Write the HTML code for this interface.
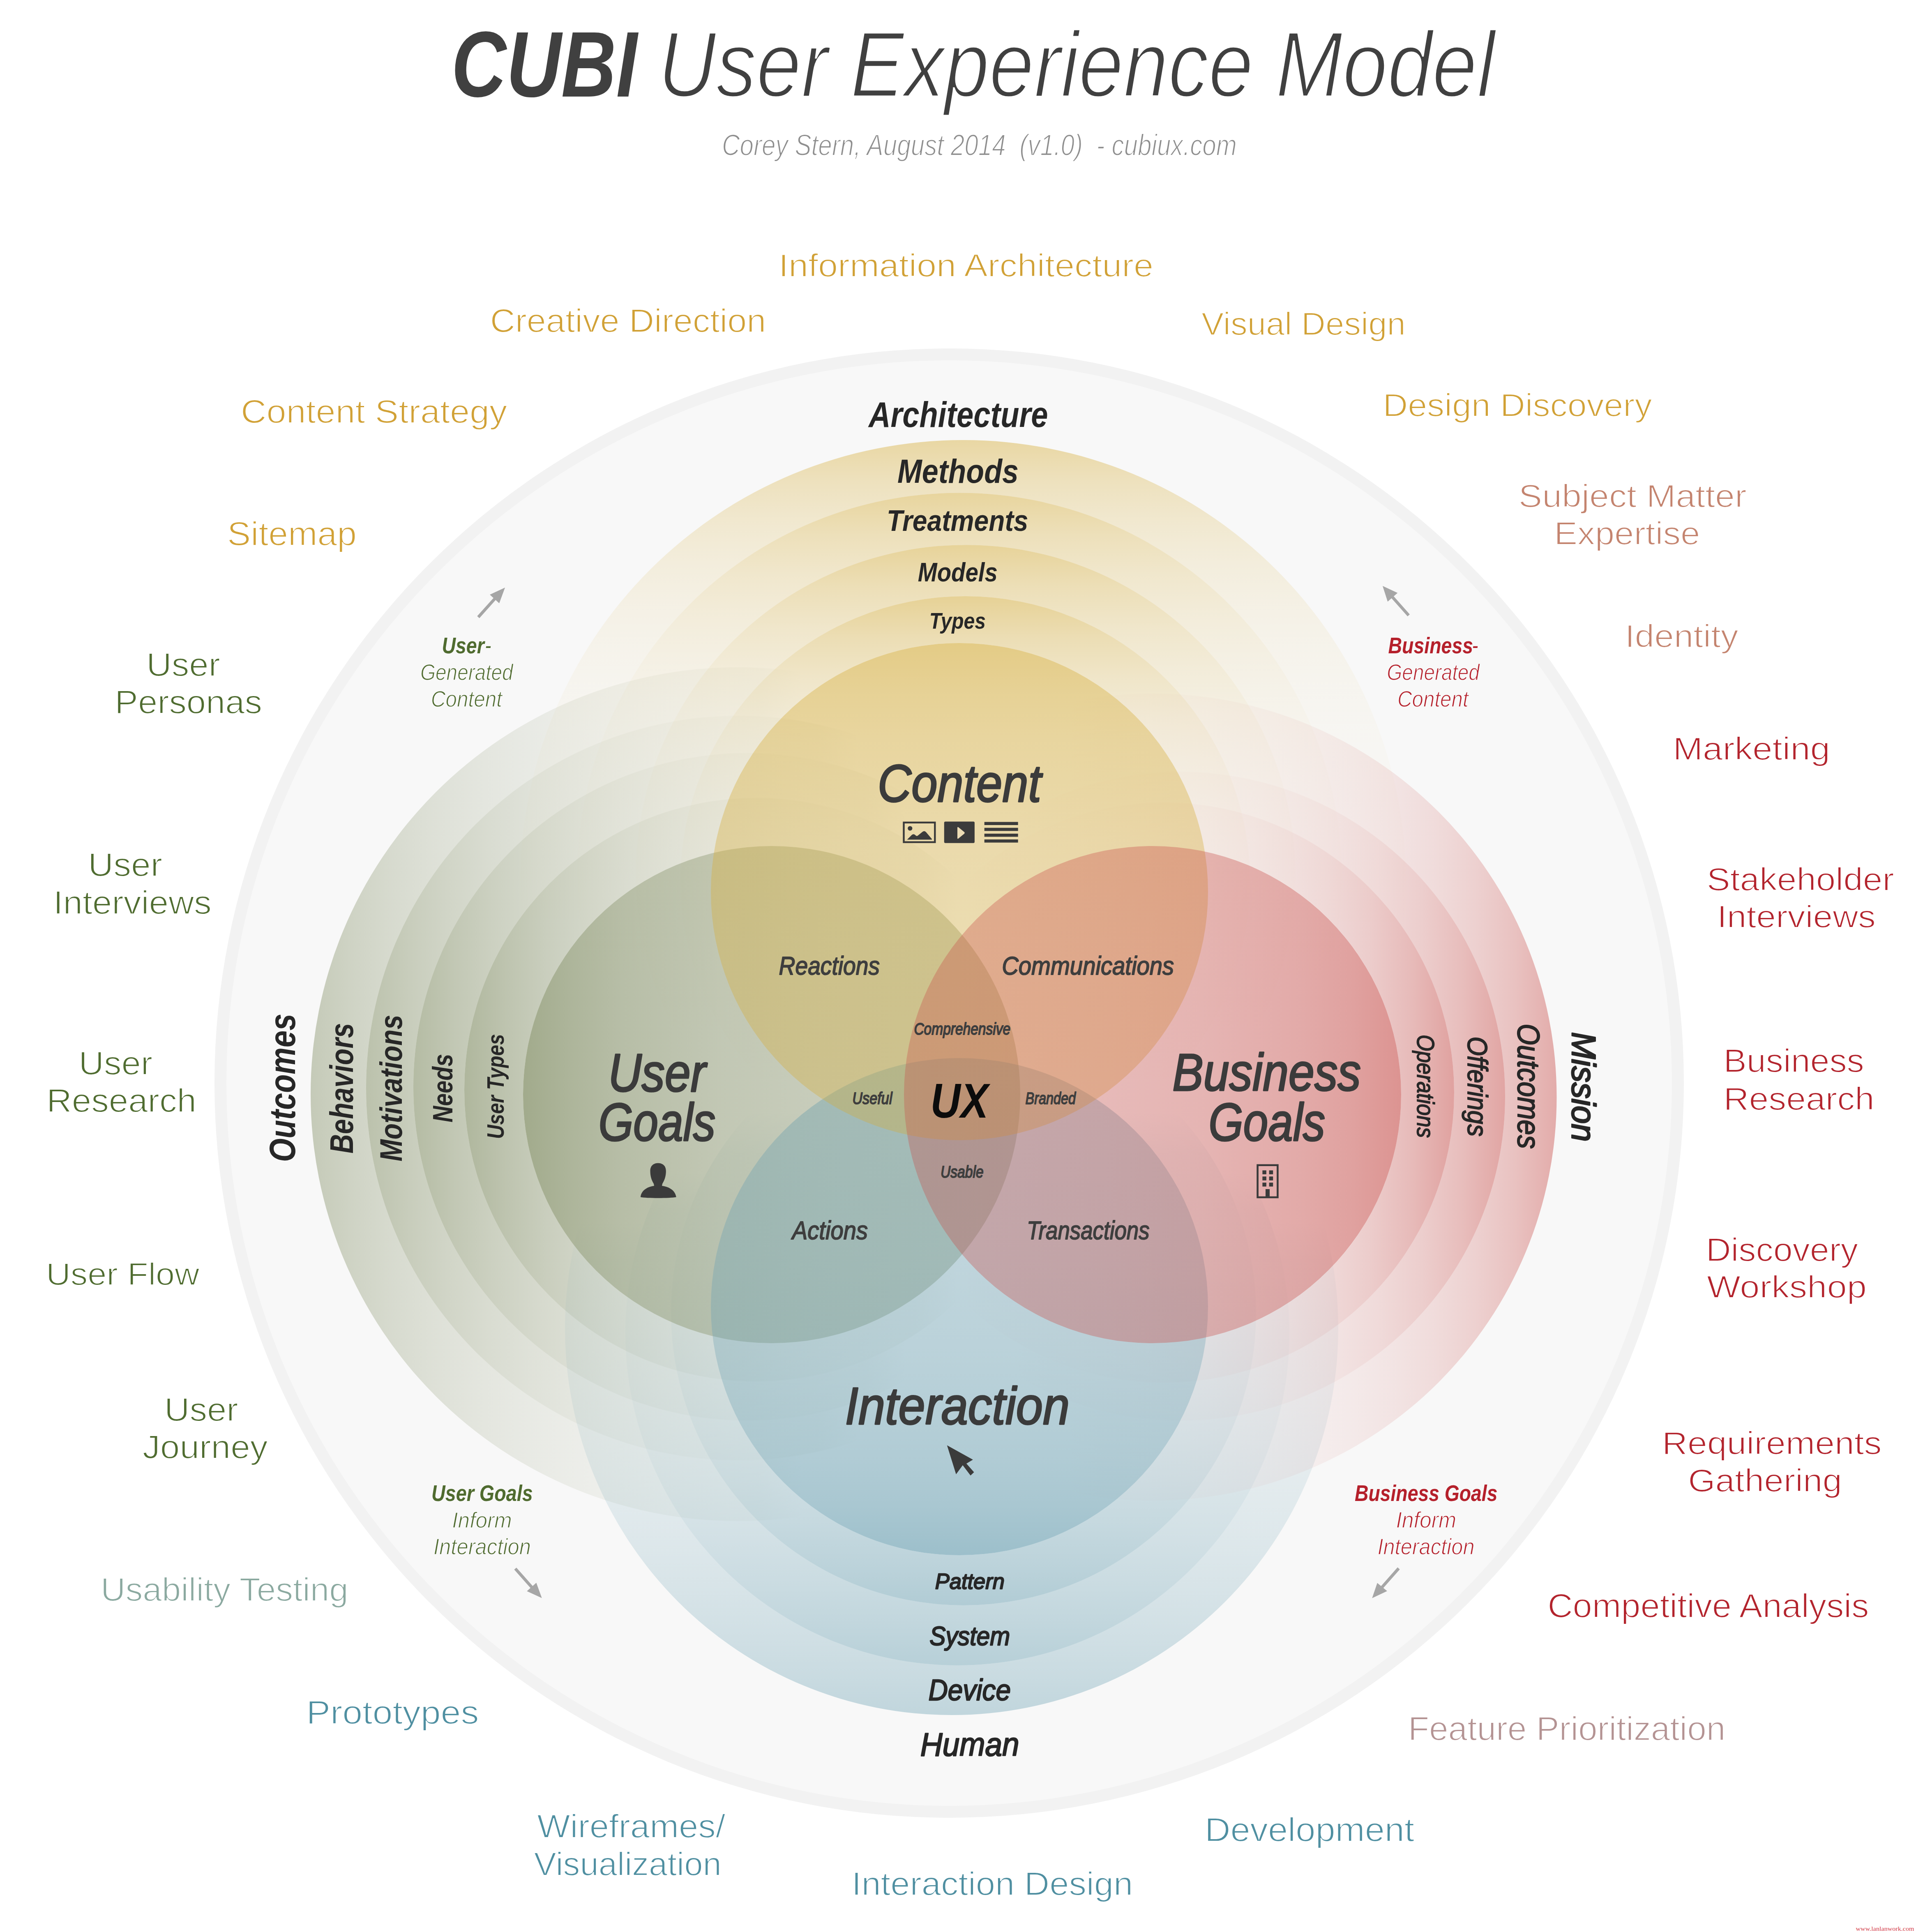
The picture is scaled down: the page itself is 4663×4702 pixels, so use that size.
<!DOCTYPE html><html><head><meta charset="utf-8"><title>CUBI User Experience Model</title><style>html,body{margin:0;padding:0;background:#fff;overflow:hidden}svg{display:block}</style></head><body><svg xmlns="http://www.w3.org/2000/svg" width="4663" height="4702" viewBox="0 0 4663 4702"><defs><linearGradient id="green_r0" gradientUnits="userSpaceOnUse" x1="1130.0" y1="2652.0" x2="2330.0" y2="2652.0"><stop offset="0.0000" stop-color="#717f4f" stop-opacity="0.5400"/><stop offset="0.0833" stop-color="#717f4f" stop-opacity="0.4324"/><stop offset="0.1667" stop-color="#717f4f" stop-opacity="0.3462"/><stop offset="0.2500" stop-color="#717f4f" stop-opacity="0.2772"/><stop offset="0.3333" stop-color="#717f4f" stop-opacity="0.2220"/><stop offset="0.4167" stop-color="#717f4f" stop-opacity="0.1778"/><stop offset="0.5000" stop-color="#717f4f" stop-opacity="0.1423"/><stop offset="0.5833" stop-color="#717f4f" stop-opacity="0.1140"/><stop offset="0.6667" stop-color="#717f4f" stop-opacity="0.0913"/><stop offset="0.7500" stop-color="#717f4f" stop-opacity="0.0731"/><stop offset="0.8333" stop-color="#717f4f" stop-opacity="0.0585"/><stop offset="0.9167" stop-color="#717f4f" stop-opacity="0.0469"/><stop offset="1.0000" stop-color="#717f4f" stop-opacity="0.0000"/></linearGradient><linearGradient id="green_r1" gradientUnits="userSpaceOnUse" x1="1006.0" y1="2645.0" x2="2206.0" y2="2645.0"><stop offset="0.0000" stop-color="#717f4f" stop-opacity="0.5000"/><stop offset="0.0833" stop-color="#717f4f" stop-opacity="0.4004"/><stop offset="0.1667" stop-color="#717f4f" stop-opacity="0.3206"/><stop offset="0.2500" stop-color="#717f4f" stop-opacity="0.2567"/><stop offset="0.3333" stop-color="#717f4f" stop-opacity="0.2056"/><stop offset="0.4167" stop-color="#717f4f" stop-opacity="0.1646"/><stop offset="0.5000" stop-color="#717f4f" stop-opacity="0.1318"/><stop offset="0.5833" stop-color="#717f4f" stop-opacity="0.1055"/><stop offset="0.6667" stop-color="#717f4f" stop-opacity="0.0845"/><stop offset="0.7500" stop-color="#717f4f" stop-opacity="0.0677"/><stop offset="0.8333" stop-color="#717f4f" stop-opacity="0.0542"/><stop offset="0.9167" stop-color="#717f4f" stop-opacity="0.0434"/><stop offset="1.0000" stop-color="#717f4f" stop-opacity="0.0000"/></linearGradient><linearGradient id="green_r2" gradientUnits="userSpaceOnUse" x1="891.0" y1="2648.0" x2="2091.0" y2="2648.0"><stop offset="0.0000" stop-color="#717f4f" stop-opacity="0.4500"/><stop offset="0.0833" stop-color="#717f4f" stop-opacity="0.3603"/><stop offset="0.1667" stop-color="#717f4f" stop-opacity="0.2885"/><stop offset="0.2500" stop-color="#717f4f" stop-opacity="0.2310"/><stop offset="0.3333" stop-color="#717f4f" stop-opacity="0.1850"/><stop offset="0.4167" stop-color="#717f4f" stop-opacity="0.1481"/><stop offset="0.5000" stop-color="#717f4f" stop-opacity="0.1186"/><stop offset="0.5833" stop-color="#717f4f" stop-opacity="0.0950"/><stop offset="0.6667" stop-color="#717f4f" stop-opacity="0.0761"/><stop offset="0.7500" stop-color="#717f4f" stop-opacity="0.0609"/><stop offset="0.8333" stop-color="#717f4f" stop-opacity="0.0488"/><stop offset="0.9167" stop-color="#717f4f" stop-opacity="0.0390"/><stop offset="1.0000" stop-color="#717f4f" stop-opacity="0.0000"/></linearGradient><linearGradient id="green_r3" gradientUnits="userSpaceOnUse" x1="756.0" y1="2663.0" x2="1956.0" y2="2663.0"><stop offset="0.0000" stop-color="#717f4f" stop-opacity="0.3800"/><stop offset="0.0833" stop-color="#717f4f" stop-opacity="0.3043"/><stop offset="0.1667" stop-color="#717f4f" stop-opacity="0.2436"/><stop offset="0.2500" stop-color="#717f4f" stop-opacity="0.1951"/><stop offset="0.3333" stop-color="#717f4f" stop-opacity="0.1562"/><stop offset="0.4167" stop-color="#717f4f" stop-opacity="0.1251"/><stop offset="0.5000" stop-color="#717f4f" stop-opacity="0.1002"/><stop offset="0.5833" stop-color="#717f4f" stop-opacity="0.0802"/><stop offset="0.6667" stop-color="#717f4f" stop-opacity="0.0642"/><stop offset="0.7500" stop-color="#717f4f" stop-opacity="0.0514"/><stop offset="0.8333" stop-color="#717f4f" stop-opacity="0.0412"/><stop offset="0.9167" stop-color="#717f4f" stop-opacity="0.0330"/><stop offset="1.0000" stop-color="#717f4f" stop-opacity="0.0000"/></linearGradient><linearGradient id="blue_r0" gradientUnits="userSpaceOnUse" x1="2345.0" y1="3907.0" x2="2345.0" y2="2707.0"><stop offset="0.0000" stop-color="#5a96aa" stop-opacity="0.4500"/><stop offset="0.0833" stop-color="#5a96aa" stop-opacity="0.3787"/><stop offset="0.1667" stop-color="#5a96aa" stop-opacity="0.3188"/><stop offset="0.2500" stop-color="#5a96aa" stop-opacity="0.2683"/><stop offset="0.3333" stop-color="#5a96aa" stop-opacity="0.2258"/><stop offset="0.4167" stop-color="#5a96aa" stop-opacity="0.1900"/><stop offset="0.5000" stop-color="#5a96aa" stop-opacity="0.1599"/><stop offset="0.5833" stop-color="#5a96aa" stop-opacity="0.1346"/><stop offset="0.6667" stop-color="#5a96aa" stop-opacity="0.1133"/><stop offset="0.7500" stop-color="#5a96aa" stop-opacity="0.0953"/><stop offset="0.8333" stop-color="#5a96aa" stop-opacity="0.0802"/><stop offset="0.9167" stop-color="#5a96aa" stop-opacity="0.0675"/><stop offset="1.0000" stop-color="#5a96aa" stop-opacity="0.0000"/></linearGradient><linearGradient id="blue_r1" gradientUnits="userSpaceOnUse" x1="2330.0" y1="4053.0" x2="2330.0" y2="2853.0"><stop offset="0.0000" stop-color="#5a96aa" stop-opacity="0.4100"/><stop offset="0.0833" stop-color="#5a96aa" stop-opacity="0.3451"/><stop offset="0.1667" stop-color="#5a96aa" stop-opacity="0.2904"/><stop offset="0.2500" stop-color="#5a96aa" stop-opacity="0.2444"/><stop offset="0.3333" stop-color="#5a96aa" stop-opacity="0.2057"/><stop offset="0.4167" stop-color="#5a96aa" stop-opacity="0.1731"/><stop offset="0.5000" stop-color="#5a96aa" stop-opacity="0.1457"/><stop offset="0.5833" stop-color="#5a96aa" stop-opacity="0.1226"/><stop offset="0.6667" stop-color="#5a96aa" stop-opacity="0.1032"/><stop offset="0.7500" stop-color="#5a96aa" stop-opacity="0.0869"/><stop offset="0.8333" stop-color="#5a96aa" stop-opacity="0.0731"/><stop offset="0.9167" stop-color="#5a96aa" stop-opacity="0.0615"/><stop offset="1.0000" stop-color="#5a96aa" stop-opacity="0.0000"/></linearGradient><linearGradient id="blue_r2" gradientUnits="userSpaceOnUse" x1="2316.0" y1="4174.0" x2="2316.0" y2="2974.0"><stop offset="0.0000" stop-color="#5a96aa" stop-opacity="0.3500"/><stop offset="0.0833" stop-color="#5a96aa" stop-opacity="0.2946"/><stop offset="0.1667" stop-color="#5a96aa" stop-opacity="0.2479"/><stop offset="0.2500" stop-color="#5a96aa" stop-opacity="0.2087"/><stop offset="0.3333" stop-color="#5a96aa" stop-opacity="0.1756"/><stop offset="0.4167" stop-color="#5a96aa" stop-opacity="0.1478"/><stop offset="0.5000" stop-color="#5a96aa" stop-opacity="0.1244"/><stop offset="0.5833" stop-color="#5a96aa" stop-opacity="0.1047"/><stop offset="0.6667" stop-color="#5a96aa" stop-opacity="0.0881"/><stop offset="0.7500" stop-color="#5a96aa" stop-opacity="0.0742"/><stop offset="0.8333" stop-color="#5a96aa" stop-opacity="0.0624"/><stop offset="0.9167" stop-color="#5a96aa" stop-opacity="0.0525"/><stop offset="1.0000" stop-color="#5a96aa" stop-opacity="0.0000"/></linearGradient><linearGradient id="content_r0" gradientUnits="userSpaceOnUse" x1="2349.0" y1="1451.0" x2="2349.0" y2="2651.0"><stop offset="0.0000" stop-color="#d5ab33" stop-opacity="0.5000"/><stop offset="0.0833" stop-color="#d5ab33" stop-opacity="0.3452"/><stop offset="0.1667" stop-color="#d5ab33" stop-opacity="0.2384"/><stop offset="0.2500" stop-color="#d5ab33" stop-opacity="0.1646"/><stop offset="0.3333" stop-color="#d5ab33" stop-opacity="0.1137"/><stop offset="0.4167" stop-color="#d5ab33" stop-opacity="0.0785"/><stop offset="0.5000" stop-color="#d5ab33" stop-opacity="0.0542"/><stop offset="0.5833" stop-color="#d5ab33" stop-opacity="0.0374"/><stop offset="0.6667" stop-color="#d5ab33" stop-opacity="0.0258"/><stop offset="0.7500" stop-color="#d5ab33" stop-opacity="0.0178"/><stop offset="0.8333" stop-color="#d5ab33" stop-opacity="0.0123"/><stop offset="0.9167" stop-color="#d5ab33" stop-opacity="0.0085"/><stop offset="1.0000" stop-color="#d5ab33" stop-opacity="0.0000"/></linearGradient><linearGradient id="content_r1" gradientUnits="userSpaceOnUse" x1="2350.0" y1="1326.5" x2="2350.0" y2="2526.5"><stop offset="0.0000" stop-color="#d5ab33" stop-opacity="0.4800"/><stop offset="0.0833" stop-color="#d5ab33" stop-opacity="0.3314"/><stop offset="0.1667" stop-color="#d5ab33" stop-opacity="0.2288"/><stop offset="0.2500" stop-color="#d5ab33" stop-opacity="0.1580"/><stop offset="0.3333" stop-color="#d5ab33" stop-opacity="0.1091"/><stop offset="0.4167" stop-color="#d5ab33" stop-opacity="0.0753"/><stop offset="0.5000" stop-color="#d5ab33" stop-opacity="0.0520"/><stop offset="0.5833" stop-color="#d5ab33" stop-opacity="0.0359"/><stop offset="0.6667" stop-color="#d5ab33" stop-opacity="0.0248"/><stop offset="0.7500" stop-color="#d5ab33" stop-opacity="0.0171"/><stop offset="0.8333" stop-color="#d5ab33" stop-opacity="0.0118"/><stop offset="0.9167" stop-color="#d5ab33" stop-opacity="0.0082"/><stop offset="1.0000" stop-color="#d5ab33" stop-opacity="0.0000"/></linearGradient><linearGradient id="content_r2" gradientUnits="userSpaceOnUse" x1="2335.0" y1="1199.5" x2="2335.0" y2="2399.5"><stop offset="0.0000" stop-color="#d5ab33" stop-opacity="0.4600"/><stop offset="0.0833" stop-color="#d5ab33" stop-opacity="0.3176"/><stop offset="0.1667" stop-color="#d5ab33" stop-opacity="0.2193"/><stop offset="0.2500" stop-color="#d5ab33" stop-opacity="0.1514"/><stop offset="0.3333" stop-color="#d5ab33" stop-opacity="0.1046"/><stop offset="0.4167" stop-color="#d5ab33" stop-opacity="0.0722"/><stop offset="0.5000" stop-color="#d5ab33" stop-opacity="0.0498"/><stop offset="0.5833" stop-color="#d5ab33" stop-opacity="0.0344"/><stop offset="0.6667" stop-color="#d5ab33" stop-opacity="0.0238"/><stop offset="0.7500" stop-color="#d5ab33" stop-opacity="0.0164"/><stop offset="0.8333" stop-color="#d5ab33" stop-opacity="0.0113"/><stop offset="0.9167" stop-color="#d5ab33" stop-opacity="0.0078"/><stop offset="1.0000" stop-color="#d5ab33" stop-opacity="0.0000"/></linearGradient><linearGradient id="content_r3" gradientUnits="userSpaceOnUse" x1="2344.0" y1="1071.0" x2="2344.0" y2="2271.0"><stop offset="0.0000" stop-color="#d5ab33" stop-opacity="0.4300"/><stop offset="0.0833" stop-color="#d5ab33" stop-opacity="0.2969"/><stop offset="0.1667" stop-color="#d5ab33" stop-opacity="0.2050"/><stop offset="0.2500" stop-color="#d5ab33" stop-opacity="0.1416"/><stop offset="0.3333" stop-color="#d5ab33" stop-opacity="0.0977"/><stop offset="0.4167" stop-color="#d5ab33" stop-opacity="0.0675"/><stop offset="0.5000" stop-color="#d5ab33" stop-opacity="0.0466"/><stop offset="0.5833" stop-color="#d5ab33" stop-opacity="0.0322"/><stop offset="0.6667" stop-color="#d5ab33" stop-opacity="0.0222"/><stop offset="0.7500" stop-color="#d5ab33" stop-opacity="0.0153"/><stop offset="0.8333" stop-color="#d5ab33" stop-opacity="0.0106"/><stop offset="0.9167" stop-color="#d5ab33" stop-opacity="0.0073"/><stop offset="1.0000" stop-color="#d5ab33" stop-opacity="0.0000"/></linearGradient><linearGradient id="red_r0" gradientUnits="userSpaceOnUse" x1="3539.0" y1="2659.0" x2="2339.0" y2="2659.0"><stop offset="0.0000" stop-color="#c84b47" stop-opacity="0.5000"/><stop offset="0.0833" stop-color="#c84b47" stop-opacity="0.3583"/><stop offset="0.1667" stop-color="#c84b47" stop-opacity="0.2567"/><stop offset="0.2500" stop-color="#c84b47" stop-opacity="0.1839"/><stop offset="0.3333" stop-color="#c84b47" stop-opacity="0.1318"/><stop offset="0.4167" stop-color="#c84b47" stop-opacity="0.0944"/><stop offset="0.5000" stop-color="#c84b47" stop-opacity="0.0677"/><stop offset="0.5833" stop-color="#c84b47" stop-opacity="0.0485"/><stop offset="0.6667" stop-color="#c84b47" stop-opacity="0.0347"/><stop offset="0.7500" stop-color="#c84b47" stop-opacity="0.0249"/><stop offset="0.8333" stop-color="#c84b47" stop-opacity="0.0178"/><stop offset="0.9167" stop-color="#c84b47" stop-opacity="0.0128"/><stop offset="1.0000" stop-color="#c84b47" stop-opacity="0.0000"/></linearGradient><linearGradient id="red_r1" gradientUnits="userSpaceOnUse" x1="3663.0" y1="2668.0" x2="2463.0" y2="2668.0"><stop offset="0.0000" stop-color="#c84b47" stop-opacity="0.4800"/><stop offset="0.0833" stop-color="#c84b47" stop-opacity="0.3439"/><stop offset="0.1667" stop-color="#c84b47" stop-opacity="0.2464"/><stop offset="0.2500" stop-color="#c84b47" stop-opacity="0.1766"/><stop offset="0.3333" stop-color="#c84b47" stop-opacity="0.1265"/><stop offset="0.4167" stop-color="#c84b47" stop-opacity="0.0907"/><stop offset="0.5000" stop-color="#c84b47" stop-opacity="0.0650"/><stop offset="0.5833" stop-color="#c84b47" stop-opacity="0.0465"/><stop offset="0.6667" stop-color="#c84b47" stop-opacity="0.0334"/><stop offset="0.7500" stop-color="#c84b47" stop-opacity="0.0239"/><stop offset="0.8333" stop-color="#c84b47" stop-opacity="0.0171"/><stop offset="0.9167" stop-color="#c84b47" stop-opacity="0.0123"/><stop offset="1.0000" stop-color="#c84b47" stop-opacity="0.0000"/></linearGradient><linearGradient id="red_r2" gradientUnits="userSpaceOnUse" x1="3788.5" y1="2670.0" x2="2588.5" y2="2670.0"><stop offset="0.0000" stop-color="#c84b47" stop-opacity="0.4400"/><stop offset="0.0833" stop-color="#c84b47" stop-opacity="0.3153"/><stop offset="0.1667" stop-color="#c84b47" stop-opacity="0.2259"/><stop offset="0.2500" stop-color="#c84b47" stop-opacity="0.1619"/><stop offset="0.3333" stop-color="#c84b47" stop-opacity="0.1160"/><stop offset="0.4167" stop-color="#c84b47" stop-opacity="0.0831"/><stop offset="0.5000" stop-color="#c84b47" stop-opacity="0.0595"/><stop offset="0.5833" stop-color="#c84b47" stop-opacity="0.0427"/><stop offset="0.6667" stop-color="#c84b47" stop-opacity="0.0306"/><stop offset="0.7500" stop-color="#c84b47" stop-opacity="0.0219"/><stop offset="0.8333" stop-color="#c84b47" stop-opacity="0.0157"/><stop offset="0.9167" stop-color="#c84b47" stop-opacity="0.0112"/><stop offset="1.0000" stop-color="#c84b47" stop-opacity="0.0000"/></linearGradient><linearGradient id="green_main" gradientUnits="userSpaceOnUse" x1="1273.0" y1="2664.0" x2="2483.0" y2="2664.0"><stop offset="0.0000" stop-color="#717f4f" stop-opacity="0.6400"/><stop offset="0.1000" stop-color="#717f4f" stop-opacity="0.5500"/><stop offset="0.2000" stop-color="#717f4f" stop-opacity="0.4800"/><stop offset="0.4000" stop-color="#717f4f" stop-opacity="0.4000"/><stop offset="0.6000" stop-color="#717f4f" stop-opacity="0.3600"/><stop offset="1.0000" stop-color="#717f4f" stop-opacity="0.3300"/></linearGradient><linearGradient id="blue_main" gradientUnits="userSpaceOnUse" x1="2335.0" y1="3785.0" x2="2335.0" y2="2575.0"><stop offset="0.0000" stop-color="#5a96aa" stop-opacity="0.5800"/><stop offset="0.1000" stop-color="#5a96aa" stop-opacity="0.5000"/><stop offset="0.2000" stop-color="#5a96aa" stop-opacity="0.4500"/><stop offset="0.4000" stop-color="#5a96aa" stop-opacity="0.3900"/><stop offset="0.6000" stop-color="#5a96aa" stop-opacity="0.3600"/><stop offset="1.0000" stop-color="#5a96aa" stop-opacity="0.3300"/></linearGradient><linearGradient id="content_main" gradientUnits="userSpaceOnUse" x1="2335.0" y1="1565.0" x2="2335.0" y2="2775.0"><stop offset="0.0000" stop-color="#d5ab33" stop-opacity="0.5800"/><stop offset="0.1000" stop-color="#d5ab33" stop-opacity="0.5000"/><stop offset="0.2000" stop-color="#d5ab33" stop-opacity="0.4500"/><stop offset="0.4000" stop-color="#d5ab33" stop-opacity="0.3900"/><stop offset="0.6000" stop-color="#d5ab33" stop-opacity="0.3600"/><stop offset="1.0000" stop-color="#d5ab33" stop-opacity="0.3300"/></linearGradient><linearGradient id="red_main" gradientUnits="userSpaceOnUse" x1="3410.0" y1="2664.0" x2="2200.0" y2="2664.0"><stop offset="0.0000" stop-color="#c84b47" stop-opacity="0.5800"/><stop offset="0.1000" stop-color="#c84b47" stop-opacity="0.5000"/><stop offset="0.2000" stop-color="#c84b47" stop-opacity="0.4500"/><stop offset="0.4000" stop-color="#c84b47" stop-opacity="0.3900"/><stop offset="0.6000" stop-color="#c84b47" stop-opacity="0.3600"/><stop offset="1.0000" stop-color="#c84b47" stop-opacity="0.3300"/></linearGradient></defs><rect width="4663" height="4702" fill="#ffffff"/><circle cx="2310.0" cy="2636.0" r="1788.0" fill="#f2f2f2"/><circle cx="2310.0" cy="2636.0" r="1759.0" fill="#f8f8f8"/><path d="M2550.0 2652.0 A710.0 710.0 0 1 0 1130.0 2652.0 A710.0 710.0 0 1 0 2550.0 2652.0 Z M2483.0 2664.0 A605.0 605.0 0 1 0 1273.0 2664.0 A605.0 605.0 0 1 0 2483.0 2664.0 Z" fill-rule="evenodd" fill="url(#green_r0)"/><path d="M2630.0 2645.0 A812.0 812.0 0 1 0 1006.0 2645.0 A812.0 812.0 0 1 0 2630.0 2645.0 Z M2550.0 2652.0 A710.0 710.0 0 1 0 1130.0 2652.0 A710.0 710.0 0 1 0 2550.0 2652.0 Z" fill-rule="evenodd" fill="url(#green_r1)"/><path d="M2703.0 2648.0 A906.0 906.0 0 1 0 891.0 2648.0 A906.0 906.0 0 1 0 2703.0 2648.0 Z M2630.0 2645.0 A812.0 812.0 0 1 0 1006.0 2645.0 A812.0 812.0 0 1 0 2630.0 2645.0 Z" fill-rule="evenodd" fill="url(#green_r2)"/><path d="M2834.0 2663.0 A1039.0 1039.0 0 1 0 756.0 2663.0 A1039.0 1039.0 0 1 0 2834.0 2663.0 Z M2703.0 2648.0 A906.0 906.0 0 1 0 891.0 2648.0 A906.0 906.0 0 1 0 2703.0 2648.0 Z" fill-rule="evenodd" fill="url(#green_r3)"/><path d="M3057.0 3195.0 A712.0 712.0 0 1 0 1633.0 3195.0 A712.0 712.0 0 1 0 3057.0 3195.0 Z M2940.0 3180.0 A605.0 605.0 0 1 0 1730.0 3180.0 A605.0 605.0 0 1 0 2940.0 3180.0 Z" fill-rule="evenodd" fill="url(#blue_r0)"/><path d="M3138.0 3245.0 A808.0 808.0 0 1 0 1522.0 3245.0 A808.0 808.0 0 1 0 3138.0 3245.0 Z M3057.0 3195.0 A712.0 712.0 0 1 0 1633.0 3195.0 A712.0 712.0 0 1 0 3057.0 3195.0 Z" fill-rule="evenodd" fill="url(#blue_r1)"/><path d="M3257.0 3233.0 A941.0 941.0 0 1 0 1375.0 3233.0 A941.0 941.0 0 1 0 3257.0 3233.0 Z M3138.0 3245.0 A808.0 808.0 0 1 0 1522.0 3245.0 A808.0 808.0 0 1 0 3138.0 3245.0 Z" fill-rule="evenodd" fill="url(#blue_r2)"/><path d="M3042.0 2144.0 A693.0 693.0 0 1 0 1656.0 2144.0 A693.0 693.0 0 1 0 3042.0 2144.0 Z M2940.0 2170.0 A605.0 605.0 0 1 0 1730.0 2170.0 A605.0 605.0 0 1 0 2940.0 2170.0 Z" fill-rule="evenodd" fill="url(#content_r0)"/><path d="M3152.5 2129.0 A802.5 802.5 0 1 0 1547.5 2129.0 A802.5 802.5 0 1 0 3152.5 2129.0 Z M3042.0 2144.0 A693.0 693.0 0 1 0 1656.0 2144.0 A693.0 693.0 0 1 0 3042.0 2144.0 Z" fill-rule="evenodd" fill="url(#content_r1)"/><path d="M3265.0 2129.5 A930.0 930.0 0 1 0 1405.0 2129.5 A930.0 930.0 0 1 0 3265.0 2129.5 Z M3152.5 2129.0 A802.5 802.5 0 1 0 1547.5 2129.0 A802.5 802.5 0 1 0 3152.5 2129.0 Z" fill-rule="evenodd" fill="url(#content_r2)"/><path d="M3422.0 2149.0 A1078.0 1078.0 0 1 0 1266.0 2149.0 A1078.0 1078.0 0 1 0 3422.0 2149.0 Z M3265.0 2129.5 A930.0 930.0 0 1 0 1405.0 2129.5 A930.0 930.0 0 1 0 3265.0 2129.5 Z" fill-rule="evenodd" fill="url(#content_r3)"/><path d="M3539.0 2659.0 A706.0 706.0 0 1 0 2127.0 2659.0 A706.0 706.0 0 1 0 3539.0 2659.0 Z M3410.0 2664.0 A605.0 605.0 0 1 0 2200.0 2664.0 A605.0 605.0 0 1 0 3410.0 2664.0 Z" fill-rule="evenodd" fill="url(#red_r0)"/><path d="M3663.0 2668.0 A789.0 789.0 0 1 0 2085.0 2668.0 A789.0 789.0 0 1 0 3663.0 2668.0 Z M3539.0 2659.0 A706.0 706.0 0 1 0 2127.0 2659.0 A706.0 706.0 0 1 0 3539.0 2659.0 Z" fill-rule="evenodd" fill="url(#red_r1)"/><path d="M3788.5 2670.0 A982.0 982.0 0 1 0 1824.5 2670.0 A982.0 982.0 0 1 0 3788.5 2670.0 Z M3663.0 2668.0 A789.0 789.0 0 1 0 2085.0 2668.0 A789.0 789.0 0 1 0 3663.0 2668.0 Z" fill-rule="evenodd" fill="url(#red_r2)"/><circle cx="1878.0" cy="2664.0" r="605.0" fill="url(#green_main)"/><circle cx="2335.0" cy="3180.0" r="605.0" fill="url(#blue_main)"/><circle cx="2335.0" cy="2170.0" r="605.0" fill="url(#content_main)"/><circle cx="2805.0" cy="2664.0" r="605.0" fill="url(#red_main)"/><rect x="2199.5" y="2001.8" width="75.8" height="47.8" fill="none" stroke="#3b3b3b" stroke-width="4.4"/><circle cx="2214.8" cy="2016" r="5.6" fill="#3b3b3b"/><path d="M2207.5 2043.5 L2218 2033 Q2222 2028.5 2226.5 2031.5 L2229.5 2034 Q2232 2035.5 2234.5 2033 L2245 2024.5 Q2250 2020.5 2254 2025.5 L2268 2042 L2268 2043.5 Z" fill="#3b3b3b"/><rect x="2297.8" y="1999.6" width="74.1" height="52.2" rx="3" fill="#3b3b3b"/><path d="M2330 2014.5 Q2330 2011.5 2332.5 2013.3 L2346.5 2024.8 Q2349 2027 2346.5 2029.2 L2332.5 2040.7 Q2330 2042.5 2330 2039.5 Z" fill="#ecdcb5"/><rect x="2395.7" y="2000.4" width="81.9" height="7.6" fill="#3b3b3b"/><rect x="2395.7" y="2014.7" width="81.9" height="7.6" fill="#3b3b3b"/><rect x="2395.7" y="2028.9" width="81.9" height="7.6" fill="#3b3b3b"/><rect x="2395.7" y="2043.0" width="81.9" height="7.6" fill="#3b3b3b"/><path d="M1601.5 2830.7 C1611.5 2830.7 1620.8 2836 1620.8 2850 C1620.8 2862 1617.5 2872 1612 2881 L1611 2886 C1626 2888 1642 2895 1645.5 2912 L1645.5 2913.5 C1630 2916.5 1573 2916.5 1559 2913.5 L1559 2912 C1562 2895 1578 2888 1592 2886 L1591 2881 C1585.5 2872 1582.5 2862 1582.5 2850 C1582.5 2836 1591.5 2830.7 1601.5 2830.7 Z" fill="#3b3b3b"/><rect x="3060.6" y="2835.7" width="48.8" height="78.2" fill="none" stroke="#3b3b3b" stroke-width="4.6"/><rect x="3072.4" y="2848.4" width="9.5" height="9.5" fill="#3b3b3b"/><rect x="3088.7" y="2848.4" width="9.5" height="9.5" fill="#3b3b3b"/><rect x="3072.4" y="2863.3" width="9.5" height="9.5" fill="#3b3b3b"/><rect x="3088.7" y="2863.3" width="9.5" height="9.5" fill="#3b3b3b"/><rect x="3072.4" y="2878.2" width="9.5" height="9.5" fill="#3b3b3b"/><rect x="3088.7" y="2878.2" width="9.5" height="9.5" fill="#3b3b3b"/><rect x="3080" y="2894" width="10" height="20" fill="#3b3b3b"/><path d="M2304.8 3517.4 L2367.9 3552.4 L2352 3562 L2370.5 3583 L2362 3591 L2343 3566 L2326.8 3588 Z" fill="#3b3b3b"/><line x1="1164.0" y1="1502.0" x2="1204.9" y2="1456.3" stroke="#a6a6a6" stroke-width="7.2"/><path d="M1229.1 1429.9 L1192.1 1447.2 L1215.0 1468.3 Z" fill="#a6a6a6"/><line x1="3428.3" y1="1497.7" x2="3387.9" y2="1452.2" stroke="#a6a6a6" stroke-width="7.2"/><path d="M3364.9 1426.0 L3401.3 1443.1 L3377.2 1464.2 Z" fill="#a6a6a6"/><line x1="1254.1" y1="3817.6" x2="1295.1" y2="3863.8" stroke="#a6a6a6" stroke-width="7.2"/><path d="M1318.7 3889.3 L1305.2 3852.0 L1282.3 3872.6 Z" fill="#a6a6a6"/><line x1="3404.0" y1="3817.0" x2="3362.6" y2="3863.8" stroke="#a6a6a6" stroke-width="7.2"/><path d="M3339.3 3889.4 L3351.9 3852.4 L3375.9 3872.3 Z" fill="#a6a6a6"/><text x="1098.5" y="234.7" font-family="Liberation Sans" font-size="226.74" font-style="italic" font-weight="bold" fill="#404040" textLength="452.3" lengthAdjust="spacingAndGlyphs" style="white-space:pre">CUBI</text><text x="1601.5" y="234.5" font-family="Liberation Sans" font-size="226.45" font-style="italic" fill="#404040" stroke="#ffffff" stroke-width="5.00" textLength="2036.9" lengthAdjust="spacingAndGlyphs" style="white-space:pre">User Experience Model</text><text x="1757.0" y="377.5" font-family="Liberation Sans" font-size="71.95" font-style="italic" fill="#8e8e8e" stroke="#ffffff" stroke-width="2.00" textLength="1253.0" lengthAdjust="spacingAndGlyphs" style="white-space:pre">Corey Stern, August 2014  (v1.0)  - cubiux.com</text><text x="1895.1" y="672.9" font-family="Liberation Sans" font-size="78.49" fill="#d1a136" stroke="#ffffff" stroke-width="2.00" textLength="911.9" lengthAdjust="spacingAndGlyphs" style="white-space:pre">Information Architecture</text><text x="1192.7" y="808.4" font-family="Liberation Sans" font-size="79.65" fill="#d1a136" stroke="#ffffff" stroke-width="2.00" textLength="671.7" lengthAdjust="spacingAndGlyphs" style="white-space:pre">Creative Direction</text><text x="2923.9" y="814.6" font-family="Liberation Sans" font-size="77.33" fill="#d1a136" stroke="#ffffff" stroke-width="2.00" textLength="497.0" lengthAdjust="spacingAndGlyphs" style="white-space:pre">Visual Design</text><text x="586.0" y="1029.1" font-family="Liberation Sans" font-size="79.65" fill="#d1a136" stroke="#ffffff" stroke-width="2.00" textLength="648.3" lengthAdjust="spacingAndGlyphs" style="white-space:pre">Content Strategy</text><text x="3365.5" y="1013.0" font-family="Liberation Sans" font-size="77.47" fill="#d1a136" stroke="#ffffff" stroke-width="2.00" textLength="655.0" lengthAdjust="spacingAndGlyphs" style="white-space:pre">Design Discovery</text><text x="553.1" y="1327.4" font-family="Liberation Sans" font-size="80.81" fill="#d1a136" stroke="#ffffff" stroke-width="2.00" textLength="315.0" lengthAdjust="spacingAndGlyphs" style="white-space:pre">Sitemap</text><text x="3695.8" y="1233.5" font-family="Liberation Sans" font-size="77.47" fill="#c4846f" stroke="#ffffff" stroke-width="2.00" textLength="554.8" lengthAdjust="spacingAndGlyphs" style="white-space:pre">Subject Matter</text><text x="3782.2" y="1324.6" font-family="Liberation Sans" font-size="77.62" fill="#c4846f" stroke="#ffffff" stroke-width="2.00" textLength="355.3" lengthAdjust="spacingAndGlyphs" style="white-space:pre">Expertise</text><text x="3954.8" y="1575.0" font-family="Liberation Sans" font-size="77.62" fill="#c4846f" stroke="#ffffff" stroke-width="2.00" textLength="275.8" lengthAdjust="spacingAndGlyphs" style="white-space:pre">Identity</text><text x="4071.4" y="1849.4" font-family="Liberation Sans" font-size="78.20" fill="#b3242d" stroke="#ffffff" stroke-width="2.00" textLength="382.7" lengthAdjust="spacingAndGlyphs" style="white-space:pre">Marketing</text><text x="4153.7" y="2166.7" font-family="Liberation Sans" font-size="77.47" fill="#b3242d" stroke="#ffffff" stroke-width="2.00" textLength="456.0" lengthAdjust="spacingAndGlyphs" style="white-space:pre">Stakeholder</text><text x="4179.0" y="2257.3" font-family="Liberation Sans" font-size="76.74" fill="#b3242d" stroke="#ffffff" stroke-width="2.00" textLength="386.0" lengthAdjust="spacingAndGlyphs" style="white-space:pre">Interviews</text><text x="4194.6" y="2609.3" font-family="Liberation Sans" font-size="79.07" fill="#b3242d" stroke="#ffffff" stroke-width="2.00" textLength="342.2" lengthAdjust="spacingAndGlyphs" style="white-space:pre">Business</text><text x="4194.6" y="2701.4" font-family="Liberation Sans" font-size="77.47" fill="#b3242d" stroke="#ffffff" stroke-width="2.00" textLength="367.2" lengthAdjust="spacingAndGlyphs" style="white-space:pre">Research</text><text x="4151.7" y="3068.7" font-family="Liberation Sans" font-size="78.78" fill="#b3242d" stroke="#ffffff" stroke-width="2.00" textLength="370.3" lengthAdjust="spacingAndGlyphs" style="white-space:pre">Discovery</text><text x="4153.9" y="3157.9" font-family="Liberation Sans" font-size="76.45" fill="#b3242d" stroke="#ffffff" stroke-width="2.00" textLength="389.0" lengthAdjust="spacingAndGlyphs" style="white-space:pre">Workshop</text><text x="4045.0" y="3538.6" font-family="Liberation Sans" font-size="77.03" fill="#b3242d" stroke="#ffffff" stroke-width="2.00" textLength="534.5" lengthAdjust="spacingAndGlyphs" style="white-space:pre">Requirements</text><text x="4108.2" y="3630.2" font-family="Liberation Sans" font-size="77.03" fill="#b3242d" stroke="#ffffff" stroke-width="2.00" textLength="374.8" lengthAdjust="spacingAndGlyphs" style="white-space:pre">Gathering</text><text x="3766.4" y="3936.3" font-family="Liberation Sans" font-size="81.98" fill="#b3242d" stroke="#ffffff" stroke-width="2.00" textLength="782.1" lengthAdjust="spacingAndGlyphs" style="white-space:pre">Competitive Analysis</text><text x="3426.9" y="4234.8" font-family="Liberation Sans" font-size="81.98" fill="#b49393" stroke="#ffffff" stroke-width="2.00" textLength="772.4" lengthAdjust="spacingAndGlyphs" style="white-space:pre">Feature Prioritization</text><text x="2931.9" y="4480.8" font-family="Liberation Sans" font-size="81.98" fill="#4f8fa1" stroke="#ffffff" stroke-width="2.00" textLength="510.2" lengthAdjust="spacingAndGlyphs" style="white-space:pre">Development</text><text x="2072.8" y="4611.6" font-family="Liberation Sans" font-size="79.65" fill="#4f8fa1" stroke="#ffffff" stroke-width="2.00" textLength="684.4" lengthAdjust="spacingAndGlyphs" style="white-space:pre">Interaction Design</text><text x="1307.3" y="4472.4" font-family="Liberation Sans" font-size="79.65" fill="#4f8fa1" stroke="#ffffff" stroke-width="2.00" textLength="458.0" lengthAdjust="spacingAndGlyphs" style="white-space:pre">Wireframes/</text><text x="1299.6" y="4564.4" font-family="Liberation Sans" font-size="79.65" fill="#4f8fa1" stroke="#ffffff" stroke-width="2.00" textLength="456.3" lengthAdjust="spacingAndGlyphs" style="white-space:pre">Visualization</text><text x="745.4" y="4195.1" font-family="Liberation Sans" font-size="79.65" fill="#4f8fa1" stroke="#ffffff" stroke-width="2.00" textLength="420.0" lengthAdjust="spacingAndGlyphs" style="white-space:pre">Prototypes</text><text x="245.0" y="3896.2" font-family="Liberation Sans" font-size="79.65" fill="#8ba9a0" stroke="#ffffff" stroke-width="2.00" textLength="602.9" lengthAdjust="spacingAndGlyphs" style="white-space:pre">Usability Testing</text><text x="400.1" y="3457.8" font-family="Liberation Sans" font-size="79.65" fill="#4f6c30" stroke="#ffffff" stroke-width="2.00" textLength="179.5" lengthAdjust="spacingAndGlyphs" style="white-space:pre">User</text><text x="347.0" y="3549.1" font-family="Liberation Sans" font-size="79.65" fill="#4f6c30" stroke="#ffffff" stroke-width="2.00" textLength="304.6" lengthAdjust="spacingAndGlyphs" style="white-space:pre">Journey</text><text x="111.9" y="3126.8" font-family="Liberation Sans" font-size="76.31" fill="#4f6c30" stroke="#ffffff" stroke-width="2.00" textLength="373.2" lengthAdjust="spacingAndGlyphs" style="white-space:pre">User Flow</text><text x="191.5" y="2615.2" font-family="Liberation Sans" font-size="78.92" fill="#4f6c30" stroke="#ffffff" stroke-width="2.00" textLength="179.6" lengthAdjust="spacingAndGlyphs" style="white-space:pre">User</text><text x="113.3" y="2705.8" font-family="Liberation Sans" font-size="80.52" fill="#4f6c30" stroke="#ffffff" stroke-width="2.00" textLength="364.7" lengthAdjust="spacingAndGlyphs" style="white-space:pre">Research</text><text x="214.3" y="2132.3" font-family="Liberation Sans" font-size="80.09" fill="#4f6c30" stroke="#ffffff" stroke-width="2.00" textLength="180.8" lengthAdjust="spacingAndGlyphs" style="white-space:pre">User</text><text x="129.7" y="2223.9" font-family="Liberation Sans" font-size="78.92" fill="#4f6c30" stroke="#ffffff" stroke-width="2.00" textLength="385.0" lengthAdjust="spacingAndGlyphs" style="white-space:pre">Interviews</text><text x="356.3" y="1644.9" font-family="Liberation Sans" font-size="79.94" fill="#4f6c30" stroke="#ffffff" stroke-width="2.00" textLength="179.6" lengthAdjust="spacingAndGlyphs" style="white-space:pre">User</text><text x="279.3" y="1735.5" font-family="Liberation Sans" font-size="78.92" fill="#4f6c30" stroke="#ffffff" stroke-width="2.00" textLength="358.7" lengthAdjust="spacingAndGlyphs" style="white-space:pre">Personas</text><text x="1075.5" y="1590.1" font-family="Liberation Sans" font-size="55.81" font-style="italic" font-weight="bold" fill="#4f6b2f" textLength="103.2" lengthAdjust="spacingAndGlyphs" style="white-space:pre">User</text><text x="1180.2" y="1590.1" font-family="Liberation Sans" font-size="55.81" font-style="italic" fill="#4f6b2f" textLength="15.1" lengthAdjust="spacingAndGlyphs" style="white-space:pre">-</text><text x="1022.9" y="1654.9" font-family="Liberation Sans" font-size="55.81" font-style="italic" fill="#4f6b2f" stroke="#f8f8f8" stroke-width="1.50" textLength="225.7" lengthAdjust="spacingAndGlyphs" style="white-space:pre">Generated</text><text x="1048.7" y="1719.5" font-family="Liberation Sans" font-size="55.81" font-style="italic" fill="#4f6b2f" stroke="#f8f8f8" stroke-width="1.50" textLength="173.3" lengthAdjust="spacingAndGlyphs" style="white-space:pre">Content</text><text x="3378.5" y="1590.1" font-family="Liberation Sans" font-size="55.81" font-style="italic" font-weight="bold" fill="#b5202b" textLength="206.6" lengthAdjust="spacingAndGlyphs" style="white-space:pre">Business</text><text x="3582.5" y="1590.1" font-family="Liberation Sans" font-size="55.81" font-style="italic" fill="#b5202b" textLength="14.8" lengthAdjust="spacingAndGlyphs" style="white-space:pre">-</text><text x="3375.2" y="1654.9" font-family="Liberation Sans" font-size="55.81" font-style="italic" fill="#b5202b" stroke="#f8f8f8" stroke-width="1.50" textLength="225.7" lengthAdjust="spacingAndGlyphs" style="white-space:pre">Generated</text><text x="3401.0" y="1719.5" font-family="Liberation Sans" font-size="55.81" font-style="italic" fill="#b5202b" stroke="#f8f8f8" stroke-width="1.50" textLength="172.6" lengthAdjust="spacingAndGlyphs" style="white-space:pre">Content</text><text x="1050.0" y="3653.0" font-family="Liberation Sans" font-size="56.25" font-style="italic" font-weight="bold" fill="#4f6b2f" textLength="246.6" lengthAdjust="spacingAndGlyphs" style="white-space:pre">User Goals</text><text x="1100.3" y="3717.8" font-family="Liberation Sans" font-size="54.51" font-style="italic" fill="#4f6b2f" stroke="#f8f8f8" stroke-width="1.50" textLength="145.6" lengthAdjust="spacingAndGlyphs" style="white-space:pre">Inform</text><text x="1055.0" y="3783.3" font-family="Liberation Sans" font-size="54.94" font-style="italic" fill="#4f6b2f" stroke="#f8f8f8" stroke-width="1.50" textLength="237.0" lengthAdjust="spacingAndGlyphs" style="white-space:pre">Interaction</text><text x="3297.0" y="3653.0" font-family="Liberation Sans" font-size="55.09" font-style="italic" font-weight="bold" fill="#b5202b" textLength="347.5" lengthAdjust="spacingAndGlyphs" style="white-space:pre">Business Goals</text><text x="3397.4" y="3717.8" font-family="Liberation Sans" font-size="55.23" font-style="italic" fill="#b5202b" stroke="#f8f8f8" stroke-width="1.50" textLength="146.8" lengthAdjust="spacingAndGlyphs" style="white-space:pre">Inform</text><text x="3352.4" y="3782.9" font-family="Liberation Sans" font-size="55.23" font-style="italic" fill="#b5202b" stroke="#f8f8f8" stroke-width="1.50" textLength="236.2" lengthAdjust="spacingAndGlyphs" style="white-space:pre">Interaction</text><text x="2113.9" y="1039.3" font-family="Liberation Sans" font-size="87.65" font-style="italic" font-weight="bold" fill="#272727" textLength="436.7" lengthAdjust="spacingAndGlyphs" style="white-space:pre">Architecture</text><text x="2184.0" y="1174.8" font-family="Liberation Sans" font-size="80.81" font-style="italic" font-weight="bold" fill="#272727" textLength="294.9" lengthAdjust="spacingAndGlyphs" style="white-space:pre">Methods</text><text x="2157.9" y="1292.2" font-family="Liberation Sans" font-size="71.66" font-style="italic" font-weight="bold" fill="#272727" textLength="344.6" lengthAdjust="spacingAndGlyphs" style="white-space:pre">Treatments</text><text x="2233.8" y="1415.2" font-family="Liberation Sans" font-size="64.97" font-style="italic" font-weight="bold" fill="#272727" textLength="194.0" lengthAdjust="spacingAndGlyphs" style="white-space:pre">Models</text><text x="2261.8" y="1530.2" font-family="Liberation Sans" font-size="55.96" font-style="italic" font-weight="bold" fill="#272727" textLength="137.2" lengthAdjust="spacingAndGlyphs" style="white-space:pre">Types</text><text x="2275.8" y="3867.2" font-family="Liberation Sans" font-size="54.36" font-style="italic" fill="#272727" stroke="#272727" stroke-width="2.60" stroke-linejoin="round" textLength="169.1" lengthAdjust="spacingAndGlyphs" style="white-space:pre">Pattern</text><text x="2262.2" y="4003.6" font-family="Liberation Sans" font-size="64.97" font-style="italic" fill="#272727" stroke="#272727" stroke-width="2.60" stroke-linejoin="round" textLength="196.1" lengthAdjust="spacingAndGlyphs" style="white-space:pre">System</text><text x="2259.4" y="4137.8" font-family="Liberation Sans" font-size="73.11" font-style="italic" fill="#272727" stroke="#272727" stroke-width="2.60" stroke-linejoin="round" textLength="200.5" lengthAdjust="spacingAndGlyphs" style="white-space:pre">Device</text><text x="2239.8" y="4273.4" font-family="Liberation Sans" font-size="80.52" font-style="italic" fill="#272727" stroke="#272727" stroke-width="2.60" stroke-linejoin="round" textLength="240.8" lengthAdjust="spacingAndGlyphs" style="white-space:pre">Human</text><text transform="translate(717.5 2824.0) rotate(-90)" x="-4.1" y="0" font-family="Liberation Sans" font-size="88.37" font-style="italic" font-weight="bold" fill="#272727" textLength="361.2" lengthAdjust="spacingAndGlyphs">Outcomes</text><text transform="translate(858.8 2805.7) rotate(-90)" x="-1.8" y="0" font-family="Liberation Sans" font-size="80.09" font-style="italic" font-weight="bold" fill="#272727" textLength="317.8" lengthAdjust="spacingAndGlyphs">Behaviors</text><text transform="translate(978.0 2825.8) rotate(-90)" x="-1.0" y="0" font-family="Liberation Sans" font-size="76.16" font-style="italic" font-weight="bold" fill="#272727" textLength="357.0" lengthAdjust="spacingAndGlyphs">Motivations</text><text transform="translate(1101.0 2730.6) rotate(-90)" x="-1.2" y="0" font-family="Liberation Sans" font-size="68.02" font-style="italic" font-weight="bold" fill="#272727" textLength="166.9" lengthAdjust="spacingAndGlyphs">Needs</text><text transform="translate(1226.2 2769.0) rotate(-90)" x="-3.1" y="0" font-family="Liberation Sans" font-size="58.28" font-style="italic" font-weight="bold" fill="#272727" textLength="255.6" lengthAdjust="spacingAndGlyphs">User Types</text><text transform="translate(3448.8 2520.0) rotate(90)" x="-2.0" y="0" font-family="Liberation Sans" font-size="59.30" font-style="italic" fill="#272727" stroke="#272727" stroke-width="1.80" stroke-linejoin="round" textLength="251.2" lengthAdjust="spacingAndGlyphs">Operations</text><text transform="translate(3571.5 2524.7) rotate(90)" x="-2.0" y="0" font-family="Liberation Sans" font-size="68.31" font-style="italic" fill="#272727" stroke="#272727" stroke-width="2.00" stroke-linejoin="round" textLength="243.2" lengthAdjust="spacingAndGlyphs">Offerings</text><text transform="translate(3694.4 2494.3) rotate(90)" x="-3.0" y="0" font-family="Liberation Sans" font-size="76.16" font-style="italic" fill="#272727" stroke="#272727" stroke-width="2.20" stroke-linejoin="round" textLength="304.6" lengthAdjust="spacingAndGlyphs">Outcomes</text><text transform="translate(3826.0 2512.7) rotate(90)" x="-1.0" y="0" font-family="Liberation Sans" font-size="82.12" font-style="italic" fill="#272727" stroke="#272727" stroke-width="3.00" stroke-linejoin="round" textLength="266.9" lengthAdjust="spacingAndGlyphs">Mission</text><text x="2136.1" y="1950.8" font-family="Liberation Sans" font-size="128.92" font-style="italic" fill="#3b3b3b" stroke="#3b3b3b" stroke-width="3.50" stroke-linejoin="round" textLength="398.0" lengthAdjust="spacingAndGlyphs" style="white-space:pre">Content</text><text x="1480.2" y="2655.7" font-family="Liberation Sans" font-size="130.67" font-style="italic" fill="#3b3b3b" stroke="#3b3b3b" stroke-width="3.50" stroke-linejoin="round" textLength="237.9" lengthAdjust="spacingAndGlyphs" style="white-space:pre">User</text><text x="1456.5" y="2776.0" font-family="Liberation Sans" font-size="129.07" font-style="italic" fill="#3b3b3b" stroke="#3b3b3b" stroke-width="3.50" stroke-linejoin="round" textLength="284.8" lengthAdjust="spacingAndGlyphs" style="white-space:pre">Goals</text><text x="2853.3" y="2654.3" font-family="Liberation Sans" font-size="128.20" font-style="italic" fill="#3b3b3b" stroke="#3b3b3b" stroke-width="3.50" stroke-linejoin="round" textLength="458.7" lengthAdjust="spacingAndGlyphs" style="white-space:pre">Business</text><text x="2941.3" y="2776.4" font-family="Liberation Sans" font-size="130.09" font-style="italic" fill="#3b3b3b" stroke="#3b3b3b" stroke-width="3.50" stroke-linejoin="round" textLength="283.8" lengthAdjust="spacingAndGlyphs" style="white-space:pre">Goals</text><text x="2056.5" y="3465.6" font-family="Liberation Sans" font-size="127.91" font-style="italic" fill="#3b3b3b" stroke="#3b3b3b" stroke-width="3.50" stroke-linejoin="round" textLength="546.5" lengthAdjust="spacingAndGlyphs" style="white-space:pre">Interaction</text><text x="1895.6" y="2372.3" font-family="Liberation Sans" font-size="62.06" font-style="italic" fill="#3e3e3e" stroke="#3e3e3e" stroke-width="2.00" stroke-linejoin="round" textLength="245.4" lengthAdjust="spacingAndGlyphs" style="white-space:pre">Reactions</text><text x="2438.2" y="2372.3" font-family="Liberation Sans" font-size="62.06" font-style="italic" fill="#3e3e3e" stroke="#3e3e3e" stroke-width="2.00" stroke-linejoin="round" textLength="419.0" lengthAdjust="spacingAndGlyphs" style="white-space:pre">Communications</text><text x="2224.4" y="2517.6" font-family="Liberation Sans" font-size="39.83" font-style="italic" fill="#3e3e3e" stroke="#3e3e3e" stroke-width="2.00" stroke-linejoin="round" textLength="234.7" lengthAdjust="spacingAndGlyphs" style="white-space:pre">Comprehensive</text><text x="2264.6" y="2720.3" font-family="Liberation Sans" font-size="117.88" font-style="italic" font-weight="bold" fill="#0c0c0c" textLength="140.8" lengthAdjust="spacingAndGlyphs" style="white-space:pre">UX</text><text x="2074.3" y="2687.4" font-family="Liberation Sans" font-size="41.28" font-style="italic" fill="#3e3e3e" stroke="#3e3e3e" stroke-width="2.00" stroke-linejoin="round" textLength="97.2" lengthAdjust="spacingAndGlyphs" style="white-space:pre">Useful</text><text x="2495.5" y="2687.4" font-family="Liberation Sans" font-size="41.28" font-style="italic" fill="#3e3e3e" stroke="#3e3e3e" stroke-width="2.00" stroke-linejoin="round" textLength="122.6" lengthAdjust="spacingAndGlyphs" style="white-space:pre">Branded</text><text x="2289.1" y="2865.6" font-family="Liberation Sans" font-size="39.97" font-style="italic" fill="#3e3e3e" stroke="#3e3e3e" stroke-width="2.00" stroke-linejoin="round" textLength="104.5" lengthAdjust="spacingAndGlyphs" style="white-space:pre">Usable</text><text x="1927.8" y="3015.9" font-family="Liberation Sans" font-size="62.06" font-style="italic" fill="#3e3e3e" stroke="#3e3e3e" stroke-width="2.00" stroke-linejoin="round" textLength="184.2" lengthAdjust="spacingAndGlyphs" style="white-space:pre">Actions</text><text x="2499.1" y="3015.9" font-family="Liberation Sans" font-size="62.06" font-style="italic" fill="#3e3e3e" stroke="#3e3e3e" stroke-width="2.00" stroke-linejoin="round" textLength="298.5" lengthAdjust="spacingAndGlyphs" style="white-space:pre">Transactions</text><text x="4516.5" y="4699" font-family="Liberation Serif" font-size="15" fill="#d5414c" textLength="142" lengthAdjust="spacingAndGlyphs">www.lanlanwork.com</text></svg></body></html>
